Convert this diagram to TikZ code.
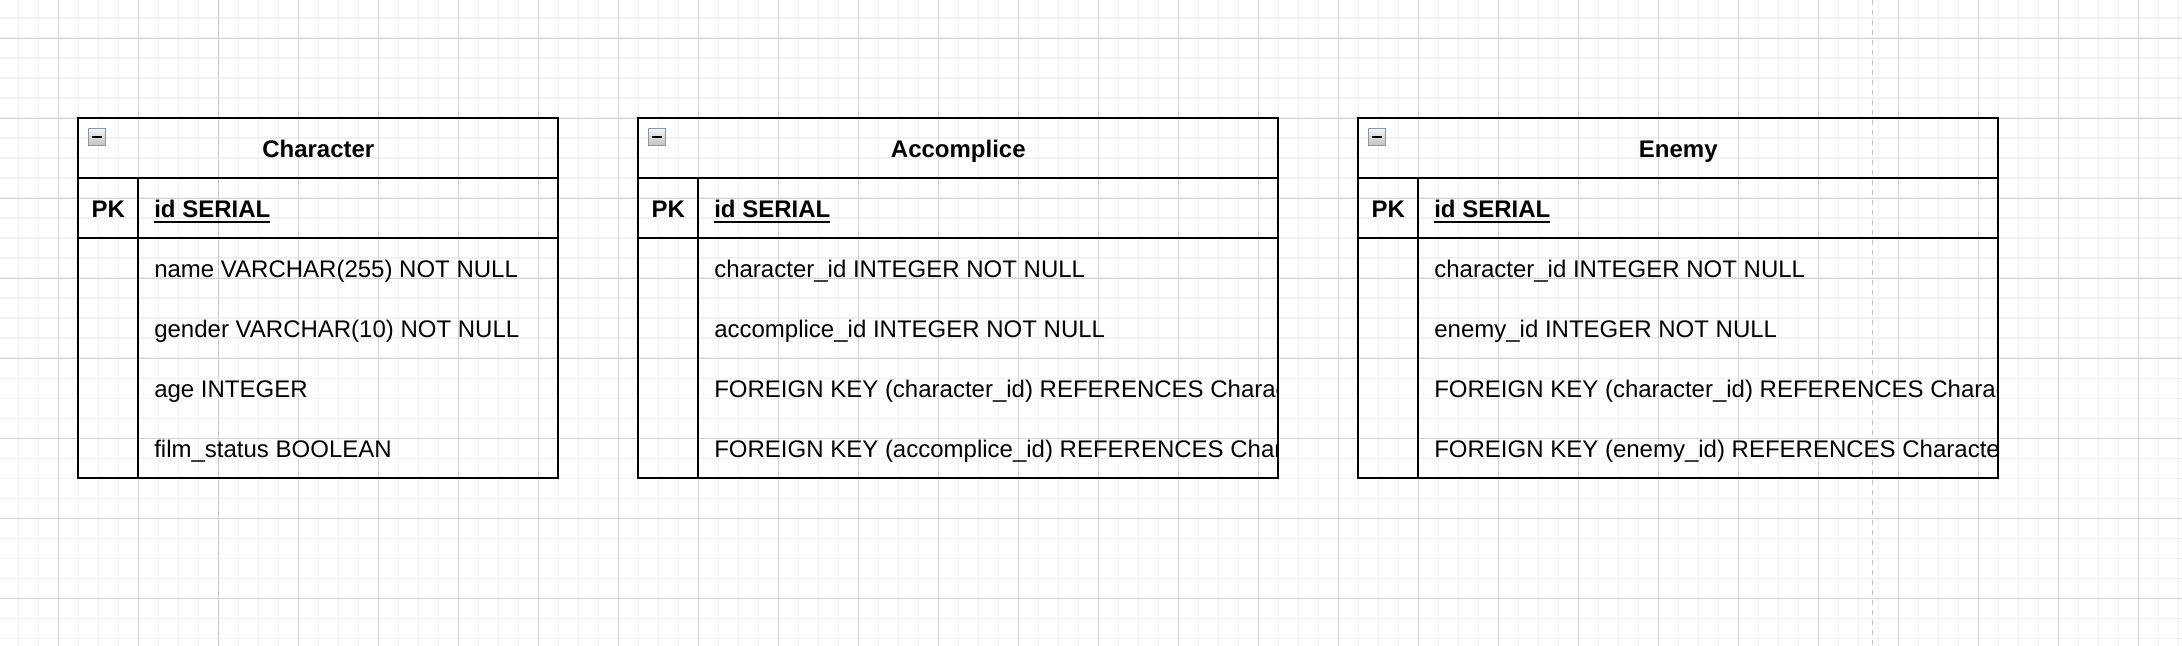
\documentclass[tikz,border=0pt]{standalone}
\usepackage{fontspec}
\setmainfont{Liberation Sans}
\usetikzlibrary{calc}
\definecolor{minorgrid}{HTML}{F0F0F0}
\definecolor{majorgrid}{HTML}{D3D3D3}
\definecolor{pagebreak}{HTML}{C2C2C2}
\definecolor{iconborder}{HTML}{8D96A6}
\definecolor{icontop}{HTML}{F4F4F4}
\definecolor{iconbot}{HTML}{C2C2C2}
\tikzset{
  tbl/.style={draw=black, line width=1pt, outer sep=0pt, inner sep=0pt, rectangle},
  tblline/.style={draw=black, line width=1pt},
  ttl/.style={font=\bfseries\fontsize{12}{14}\selectfont, anchor=base, inner sep=0pt, outer sep=0pt},
  keyfld/.style={font=\bfseries\fontsize{12}{14}\selectfont, anchor=base west, inner sep=0pt, outer sep=0pt},
  fld/.style={font=\fontsize{12}{14}\selectfont, anchor=base west, inner sep=0pt, outer sep=0pt},
  icon/.style={draw=iconborder, line width=0.6pt, top color=icontop, bottom color=iconbot,
    minimum width=8.5pt, minimum height=8.5pt, inner sep=0pt, outer sep=0pt, anchor=north west},
  minorline/.style={draw=minorgrid, line width=0.8pt},
  majorline/.style={draw=majorgrid, line width=0.5pt},
  pageline/.style={draw=pagebreak, line width=0.8pt, dash pattern=on 2.5pt off 2.5pt}
}
% #1 name, #2 left x, #3 width, #4 title
\newcommand{\erbox}[4]{%
  \node[tbl, minimum width=#3pt, minimum height=180pt, anchor=north west] (#1) at (#2,59.15) {};
  \draw[tblline] ($(#1.north west)+(0,30)$) -- ($(#1.north east)+(0,30)$);
  \draw[tblline] ($(#1.north west)+(0,60)$) -- ($(#1.north east)+(0,60)$);
  \draw[tblline] ($(#1.north west)+(30,30)$) -- ($(#1.south west)+(30,0)$);
  \node[icon] (#1-icon) at ($(#1.north west)+(5,5)$) {};
  \draw[line width=0.9pt] ($(#1-icon.center)+(-2.6,0)$) -- ($(#1-icon.center)+(2.6,0)$);
  \node[ttl] (#1-title) at ($(#1.north)+(0,19.75)$) {#4};
  \node[ttl] (#1-pk) at ($(#1.north west)+(15,49.75)$) {PK};
  \node[keyfld] (#1-id) at ($(#1.north west)+(38,49.75)$) {id SERIAL};
  \draw[line width=1pt] ($(#1-id.base west)+(0,1.9)$) -- ($(#1-id.base east)+(0,1.9)$);
}
% #1 box name, #2 row index (1..4), #3 text
\newcommand{\erfield}[3]{%
  \begin{scope}
    \clip (#1.north west) rectangle (#1.south east);
    \node[fld] (#1-r#2) at ($(#1.north west)+(38,49.75+30*#2)$) {#3};
  \end{scope}
}
\begin{document}
\begin{tikzpicture}[x=1pt,y=-1pt]
  \useasboundingbox (0,0) rectangle (1091,323);
  \fill[white] (0,0) rectangle (1091,323);
  % grid
  \foreach \i in {0,...,108} \draw[minorline] (9.15+10*\i,0) -- (9.15+10*\i,323);
  \foreach \j in {0,...,31} \draw[minorline] (0,9.15+10*\j) -- (1091,9.15+10*\j);
  \foreach \i in {0,...,26} \draw[majorline] (29.15+40*\i,0) -- (29.15+40*\i,323);
  \foreach \j in {0,...,7} \draw[majorline] (0,19.15+40*\j) -- (1091,19.15+40*\j);
  % page breaks
  \draw[pageline] (109.15,0) -- (109.15,323);
  \draw[pageline] (936.15,0) -- (936.15,323);
  % Character
  \erbox{char}{39.15}{240}{Character}
  \erfield{char}{1}{name VARCHAR(255) NOT NULL}
  \erfield{char}{2}{gender VARCHAR(10) NOT NULL}
  \erfield{char}{3}{age INTEGER}
  \erfield{char}{4}{film\_status BOOLEAN}
  % Accomplice
  \erbox{acc}{319.15}{320}{Accomplice}
  \erfield{acc}{1}{character\_id INTEGER NOT NULL}
  \erfield{acc}{2}{accomplice\_id INTEGER NOT NULL}
  \erfield{acc}{3}{FOREIGN KEY (character\_id) REFERENCES Charac}
  \erfield{acc}{4}{FOREIGN KEY (accomplice\_id) REFERENCES Char}
  % Enemy
  \erbox{enm}{679.15}{320}{Enemy}
  \erfield{enm}{1}{character\_id INTEGER NOT NULL}
  \erfield{enm}{2}{enemy\_id INTEGER NOT NULL}
  \erfield{enm}{3}{FOREIGN KEY (character\_id) REFERENCES Charac}
  \erfield{enm}{4}{FOREIGN KEY (enemy\_id) REFERENCES Characte}
\end{tikzpicture}
\end{document}
